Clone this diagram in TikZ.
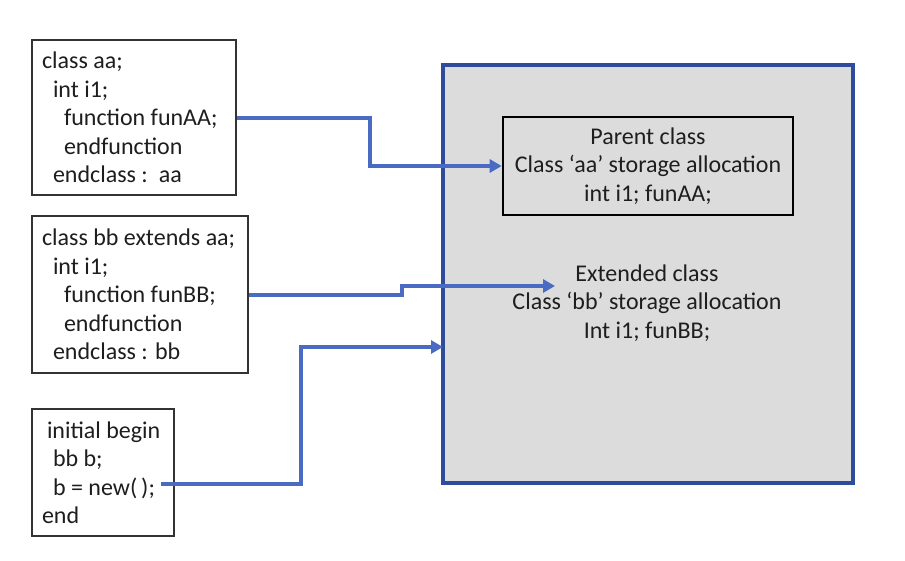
\documentclass[tikz,border=0pt]{standalone}
\usepackage{fontspec}
\setmainfont{Carlito}
\usetikzlibrary{arrows.meta}
\definecolor{txt}{HTML}{1E1E1E}
\definecolor{conblue}{HTML}{4A6BC2}
\definecolor{bigblue}{HTML}{2E4B9C}
\definecolor{boxgray}{HTML}{DCDCDC}
\begin{document}
\begin{tikzpicture}[x=1pt,y=-1pt,
  codebox/.style={draw=black!80, line width=1.8pt, fill=white, align=flush left,
    text width=#1, inner xsep=10pt, inner ysep=0pt, text=txt,
    font=\fontsize{24}{28.5}\selectfont},
  plain/.style={align=center, text=txt, inner sep=0pt,
    font=\fontsize{24}{28.5}\selectfont},
  conn/.style={draw=conblue, line width=4pt,
    -{Triangle[length=12pt,width=13pt]}}
]
\path[use as bounding box] (0,0) rectangle (905,560);

% big storage box
\node[draw=bigblue, line width=4.5pt, fill=boxgray,
      minimum width=410, minimum height=418, inner sep=0pt] (big) at (648,274) {};

% left code boxes
\node[codebox=184, minimum height=155] (b1) at (134,117.5)
  {class aa;\\
   \hspace*{11pt}int i1;\\
   \hspace*{22pt}function funAA;\\
   \hspace*{22pt}endfunction\\
   \hspace*{11pt}endclass :\ \ aa};

\node[codebox=196, minimum height=157] (b2) at (140,294.5)
  {class bb extends aa;\\
   \hspace*{11pt}int i1;\\
   \hspace*{22pt}function funBB;\\
   \hspace*{22pt}endfunction\\
   \hspace*{11pt}endclass : bb};

\node[codebox=122, minimum height=127] (b3) at (103,472.5)
  {\hspace*{5pt}initial begin\\
   \hspace*{11pt}bb b;\\
   \hspace*{11pt}b = new(\,);\\
   end};

% parent class box
\node[draw=black, line width=2.6pt, fill=boxgray, plain,
      minimum width=290, minimum height=98] (parent) at (648,166)
  {Parent class\\Class ‘aa’ storage allocation\\int i1; funAA;};

% extended class text
\node[plain] (ext) at (647,303)
  {Extended class\\Class ‘bb’ storage allocation\\Int i1; funBB;};

% connector end points
\coordinate (extin) at (555,286);
\coordinate (b3out) at (161,484);
\coordinate (bigin) at (443,347);

% connectors
\draw[conn] (b1.east) -- (370,117.5) |- (parent.west);
\draw[conn] (b2.east) -- (402,294.5) |- (extin);
\draw[conn] (b3out) -- (301,484) |- (bigin);
\end{tikzpicture}
\end{document}
